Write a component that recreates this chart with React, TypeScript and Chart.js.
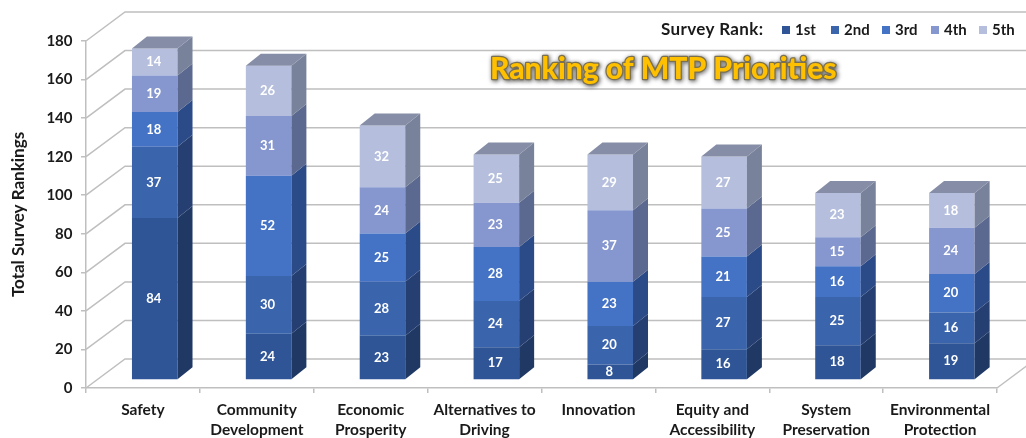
import React, { useEffect, useRef } from "react";
import { Chart, registerables } from "chart.js";

Chart.register(...registerables);

const categories = [
  "Safety",
  ["Community", "Development"],
  ["Economic", "Prosperity"],
  ["Alternatives to", "Driving"],
  "Innovation",
  ["Equity and", "Accessibility"],
  ["System", "Preservation"],
  ["Environmental", "Protection"],
];
const rank1 = [84, 24, 23, 17, 8, 16, 18, 19];
const rank2 = [37, 30, 28, 24, 20, 27, 25, 16];
const rank3 = [18, 52, 25, 28, 23, 21, 16, 20];
const rank4 = [19, 31, 24, 23, 37, 25, 15, 24];
const rank5 = [14, 26, 32, 25, 29, 27, 23, 18];
const rankNames = ["1st", "2nd", "3rd", "4th", "5th"];
const frontColors = ["#2F5597", "#3A64AC", "#4472C4", "#8697CF", "#B5BFDD"];
const sideColors = ["#1F3864", "#263F73", "#2B4A88", "#5B688F", "#79829B"];
const topColor = "#868DA6";
const gridColor = "#BFBFBF";
const FONT = "Lato, Carlito, sans-serif";

const WALL = { dx: 39, dy: -29 };
const BAR = { dx: 11.8, dy: -8 };
const DEPTH = { dx: 15, dy: -12 };

const poly = (ctx: CanvasRenderingContext2D, pts: number[][], fill: string) => {
  ctx.beginPath();
  pts.forEach(([x, y], i) => (i ? ctx.lineTo(x, y) : ctx.moveTo(x, y)));
  ctx.closePath();
  ctx.fillStyle = fill;
  ctx.fill();
};

const scene = {
  id: "scene",
  beforeDatasetsDraw(chart: any) {
    const { ctx, chartArea: a, scales } = chart;
    ctx.save();
    ctx.strokeStyle = gridColor;
    ctx.lineWidth = 1.5;
    for (const v of scales.y.ticks.map((t: any) => t.value)) {
      const y = scales.y.getPixelForValue(v);
      ctx.beginPath();
      ctx.moveTo(a.left, y);
      ctx.lineTo(a.left + WALL.dx, y + WALL.dy);
      ctx.lineTo(a.right + WALL.dx, y + WALL.dy);
      ctx.stroke();
    }
    ctx.beginPath();
    ctx.moveTo(a.right, a.bottom);
    ctx.lineTo(a.right + WALL.dx, a.bottom + WALL.dy);
    ctx.stroke();
    ctx.restore();
    ctx.save();
    ctx.translate(BAR.dx, BAR.dy);
  },
  afterDatasetsDraw(chart: any) {
    const { ctx } = chart;
    const n = chart.data.datasets.length;
    for (let d = 0; d < n; d++) {
      chart.getDatasetMeta(d).data.forEach((el: any) => {
        const r = el.x + el.width / 2;
        const l = el.x - el.width / 2;
        poly(
          ctx,
          [
            [r, el.y],
            [r + DEPTH.dx, el.y + DEPTH.dy],
            [r + DEPTH.dx, el.base + DEPTH.dy],
            [r, el.base],
          ],
          sideColors[d]
        );
        if (d === n - 1) {
          poly(
            ctx,
            [
              [l, el.y],
              [l + DEPTH.dx, el.y + DEPTH.dy],
              [r + DEPTH.dx, el.y + DEPTH.dy],
              [r, el.y],
            ],
            topColor
          );
        }
      });
    }
    ctx.fillStyle = "#FFFFFF";
    ctx.font = `bold 13px ${FONT}`;
    ctx.textAlign = "center";
    ctx.textBaseline = "middle";
    for (let d = 0; d < n; d++) {
      chart.getDatasetMeta(d).data.forEach((el: any, i: number) => {
        ctx.fillText(String(chart.data.datasets[d].data[i]), el.x - 1, (el.y + el.base) / 2);
      });
    }
    ctx.restore();
  },
  afterDraw(chart: any) {
    const { ctx } = chart;
    ctx.save();
    ctx.fillStyle = "#1A1A1A";
    ctx.font = `bold 17px ${FONT}`;
    (ctx as any).letterSpacing = "0.35px";
    ctx.textBaseline = "middle";
    ctx.textAlign = "left";
    ctx.fillText("Survey Rank:", 661, 30);
    (ctx as any).letterSpacing = "0px";
    ctx.font = `bold 15px ${FONT}`;
    const sq = [782, 831, 882, 931, 979];
    rankNames.forEach((name, i) => {
      ctx.fillStyle = frontColors[i];
      ctx.fillRect(sq[i], 26, 8, 8);
      ctx.fillStyle = "#1A1A1A";
      ctx.fillText(name, sq[i] + 13, 30);
    });
    ctx.font = `900 30px ${FONT}`;
    ctx.lineJoin = "round";
    ctx.shadowColor = "rgba(40,40,40,0.9)";
    ctx.shadowBlur = 4;
    ctx.shadowOffsetX = 1;
    ctx.shadowOffsetY = 1;
    ctx.strokeStyle = "#7A7050";
    ctx.lineWidth = 2.5;
    ctx.strokeText("Ranking of MTP Priorities", 490, 69);
    ctx.shadowColor = "transparent";
    ctx.fillStyle = "#FFC000";
    ctx.fillText("Ranking of MTP Priorities", 490, 69);
    ctx.restore();
  },
};

export default function App() {
  const ref = useRef<HTMLCanvasElement>(null);
  useEffect(() => {
    const series = [rank1, rank2, rank3, rank4, rank5];
    const chart = new Chart(ref.current!, {
      type: "bar",
      data: {
        labels: categories as any,
        datasets: series.map((data, i) => ({
          label: rankNames[i],
          data,
          backgroundColor: frontColors[i],
          borderWidth: 0,
          categoryPercentage: 1,
          barPercentage: 0.4,
          clip: false as any,
        })),
      },
      options: {
        responsive: false,
        animation: false,
        layout: { padding: { left: 0, top: 41, right: 29, bottom: 0 } },
        plugins: { legend: { display: false }, title: { display: false }, tooltip: { enabled: false } },
        scales: {
          x: {
            stacked: true,
            afterFit: (s: any) => {
              s.height = 50;
            },
            grid: { drawOnChartArea: false, drawTicks: true, tickLength: 5, color: gridColor, lineWidth: 1.5 },
            border: { color: gridColor, width: 1.5 },
            ticks: {
              autoSkip: false,
              maxRotation: 0,
              minRotation: 0,
              padding: 7,
              color: "#1A1A1A",
              font: { family: FONT, size: 15.5, weight: "bold", lineHeight: 1.3 },
            },
          },
          y: {
            stacked: true,
            min: 0,
            max: 180,
            afterFit: (s: any) => {
              s.width = 86;
            },
            grid: { drawOnChartArea: false, drawTicks: true, tickLength: 5, color: gridColor, lineWidth: 1.5 },
            border: { color: gridColor, width: 1.5 },
            ticks: {
              stepSize: 20,
              padding: 8.5,
              color: "#1A1A1A",
              font: { family: FONT, size: 15, weight: "bold" },
            },
            title: {
              display: true,
              text: "Total Survey Rankings",
              color: "#1A1A1A",
              font: { family: FONT, size: 17, weight: "bold" },
              padding: { top: 8, bottom: 0 },
            },
          },
        },
      },
      plugins: [scene],
    } as any);
    return () => chart.destroy();
  }, []);
  return (
    <canvas
      ref={ref}
      width={1026}
      height={438}
      style={{ position: "fixed", left: 0, top: 0, width: 1026, height: 438, filter: "blur(0.5px)" }}
    />
  );
}
